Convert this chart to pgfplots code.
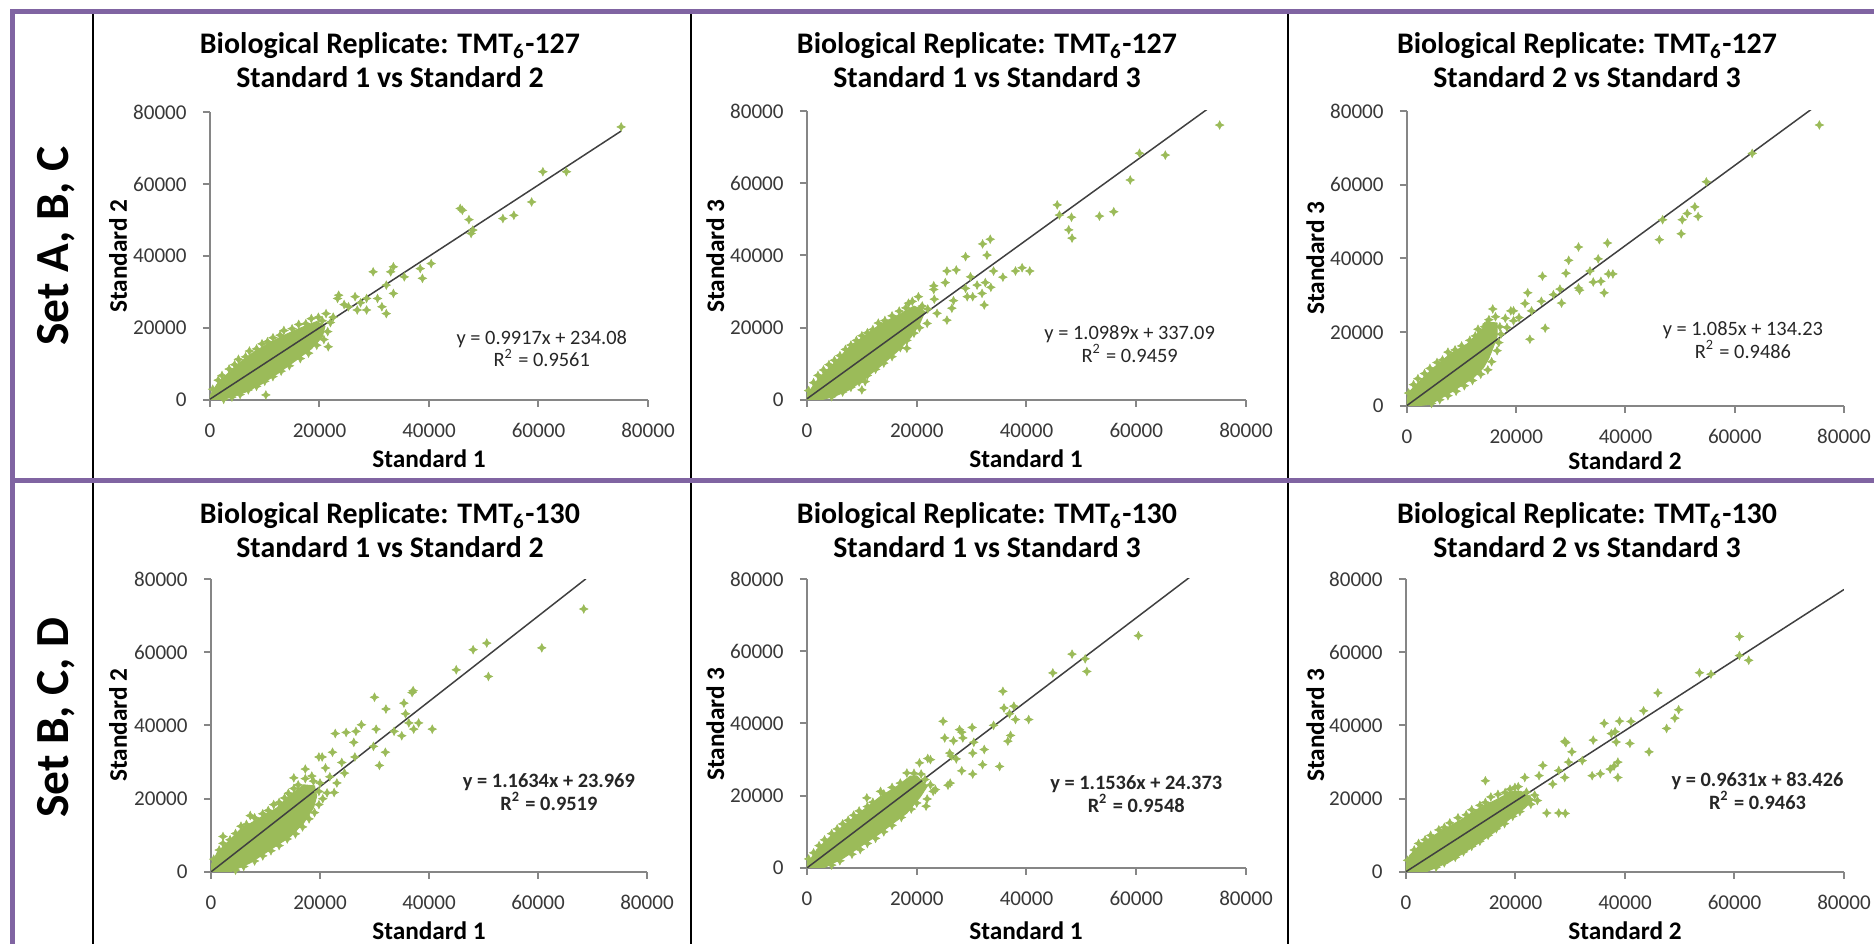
\documentclass[border=0pt]{standalone}
\usepackage{fontspec}
\setmainfont{Carlito}
\usepackage{pgfplots}
\pgfplotsset{compat=1.18}
\definecolor{ptgreen}{RGB}{155,187,89}
\definecolor{frpurple}{RGB}{128,100,162}
\definecolor{axgray}{RGB}{134,134,134}
\pgfdeclareplotmark{fstar}{%
 \pgfpathmoveto{\pgfqpoint{0pt}{\pgfplotmarksize}}%
 \pgfpathlineto{\pgfqpoint{0.33\pgfplotmarksize}{0.33\pgfplotmarksize}}%
 \pgfpathlineto{\pgfqpoint{\pgfplotmarksize}{0pt}}%
 \pgfpathlineto{\pgfqpoint{0.33\pgfplotmarksize}{-0.33\pgfplotmarksize}}%
 \pgfpathlineto{\pgfqpoint{0pt}{-\pgfplotmarksize}}%
 \pgfpathlineto{\pgfqpoint{-0.33\pgfplotmarksize}{-0.33\pgfplotmarksize}}%
 \pgfpathlineto{\pgfqpoint{-\pgfplotmarksize}{0pt}}%
 \pgfpathlineto{\pgfqpoint{-0.33\pgfplotmarksize}{0.33\pgfplotmarksize}}%
 \pgfpathclose
 \pgfusepathqfillstroke
}
\pgfplotsset{
 exstyle/.style={
  scale only axis, anchor=south west,
  xmin=0,xmax=80000,ymin=0,ymax=80000,
  axis x line*=bottom, axis y line*=left,
  axis line style={axgray,line width=0.2mm},
  xtick={0,20000,40000,60000,80000},
  ytick={0,20000,40000,60000,80000},
  scaled ticks=false,
  /pgf/number format/1000 sep={},
  /pgf/number format/assume math mode=true,
  tick align=outside, major tick length=0.7mm,
  tick style={axgray,line width=0.2mm},
  ticklabel style={font=\fontsize{6}{6.8}\selectfont, text=black!78},
  xticklabel style={yshift=-0.4mm},
  yticklabel style={xshift=-0.4mm},
  clip=true,
 },
 cloud/.style={fill=ptgreen, draw=ptgreen, line width=0.1mm, mark=none},
 pts/.style={only marks, mark=fstar, mark size=0.42mm, color=ptgreen, mark options={line width=0.06mm, fill=ptgreen}},
 trend/.style={black!75, line width=0.15mm, mark=none},
}
\newcommand{\eqfont}{\fontsize{5.8}{6.5}\selectfont}
\newcommand{\ttlfont}{\bfseries\fontsize{8.5}{10}\selectfont}
\newcommand{\labfont}{\bfseries\fontsize{7.2}{8}\selectfont}
\begin{document}
\begin{tikzpicture}[x=0.1mm,y=0.1mm]
\path[use as bounding box] (0,0) rectangle (1874,944);
% frame
\draw[black, line width=0.15mm] (93,944-11) -- (93,0);
\draw[black, line width=0.15mm] (691,944-11) -- (691,0);
\draw[black, line width=0.15mm] (1288,944-11) -- (1288,0);
\draw[frpurple, line width=0.5mm] (12.5,0) -- (12.5,944-11.5) -- (1874,944-11.5);
\draw[frpurple, line width=0.5mm] (12.5,944-481) -- (1874,944-481);
\node[rotate=90, anchor=base, font=\bfseries\fontsize{13.5}{16}\selectfont] at (68,944-246) {Set A, B, C};
\node[rotate=90, anchor=base, font=\bfseries\fontsize{13.5}{16}\selectfont] at (68,944-718) {Set B, C, D};

% ---------- Plot 1 ----------
\begin{axis}[exstyle, at={(21.0mm,54.4mm)}, width=43.8mm, height=28.8mm]
\addplot[cloud] coordinates {(0,0) (0,1200) (1200,4200) (3000,7000) (5500,10500) (8000,13300) (11000,16000) (14000,18300) (17000,20300) (19500,21800) (21000,20500) (20500,17500) (18500,14200) (15500,10800) (12500,7500) (9500,4500) (6500,2200) (3500,600) (1500,0)};
\addplot[pts] coordinates {(500,3000) (1500,5500) (2200,6800) (3500,8600) (4500,9800) (5200,11300) (6500,12000) (7200,13600) (8500,14200) (9500,15600) (10500,16200) (11500,17300) (12800,18000) (13500,19300) (15000,19800) (16200,21000) (17500,21200) (18500,22600) (19800,23000) (20500,22000) (22000,21500) (21500,19000) (20800,16800) (19500,15200) (18000,13000) (16500,11500) (14500,9500) (13000,8000) (11500,6500) (10000,5200) (8500,3800) (7000,2800) (5500,1500) (4000,800) (2500,200) (10200,1400) (23500,29100) (23300,28200) (25300,25900) (21200,24000) (21600,14800) (26500,28700) (28600,28200) (28600,25000) (26900,25000) (30600,28200) (31400,25900) (32200,24000) (33500,29600) (32200,31900) (29800,35600) (33500,37000) (33000,35600) (35500,34200) (38400,36500) (38800,33800) (40400,37900) (45700,53200) (46100,52700) (47300,50100) (48000,47200) (47700,46250) (53500,50400) (55500,51300) (58750,55000) (60800,63400) (65100,63400) (75100,75850) (24500,26500) (22500,23000) (27500,27000)};
\addplot[trend] coordinates {(0,234) (75100,74710)};
\node[font=\eqfont, align=center, text=black!85] at (axis cs:60600,14250) {y = 0.9917x + 234.08\\R\textsuperscript{2} = 0.9561};
\end{axis}

% ---------- Plot 2 ----------
\begin{axis}[exstyle, at={(80.7mm,54.4mm)}, width=43.9mm, height=28.9mm]
\addplot[cloud] coordinates {(0,0) (0,1500) (600,2800) (2400,6500) (4900,10100) (7900,15000) (10000,17200) (13400,21000) (17000,23800) (19500,26000) (21500,24500) (20500,21000) (19000,17500) (16500,13500) (13500,9500) (11000,6500) (8000,3000) (5000,1000) (2500,0)};
\addplot[pts] coordinates {(300,2600) (1200,4800) (2000,6800) (3000,8300) (4000,9800) (5000,11000) (6000,12300) (7000,14000) (8000,15200) (9000,16500) (10000,17800) (11000,18600) (12000,19500) (13000,21300) (14200,22000) (15500,23300) (16800,24600) (18000,25500) (18500,26800) (20300,28600) (19200,27300) (21000,26000) (22000,25200) (21900,21200) (20500,20000) (19500,18500) (18200,16500) (17000,14500) (15500,12000) (14000,10200) (12500,8500) (11000,6800) (9500,5000) (8000,3500) (6500,2200) (4500,900) (18200,14300) (10000,2800) (10600,5100) (20700,25400) (23100,31600) (23100,30600) (25200,32500) (28900,30900) (31000,31800) (32500,32500) (33500,31200) (31900,29500) (29200,28600) (30200,28600) (32300,26300) (26700,27500) (26400,25400) (25500,22100) (23200,27900) (23700,24000) (25500,35700) (27200,36000) (29800,34100) (34000,35700) (35700,34000) (38000,35700) (39200,36600) (40600,35700) (28900,39700) (32800,40100) (32000,43200) (33400,44500) (45600,54000) (46000,51200) (48200,50600) (47700,47100) (48300,44800) (53300,50900) (55900,52100) (58900,60900) (60600,68300) (65300,67800) (75200,76100)};
\addplot[trend] coordinates {(0,337) (75200,82975)};
\node[font=\eqfont, align=center, text=black!85] at (axis cs:58800,15500) {y = 1.0989x + 337.09\\R\textsuperscript{2} = 0.9459};
\end{axis}

% ---------- Plot 3 ----------
\begin{axis}[exstyle, at={(140.7mm,53.8mm)}, width=43.7mm, height=29.5mm]
\addplot[cloud] coordinates {(0,0) (0,2000) (600,4100) (2400,6800) (4900,10400) (7900,14100) (11000,16800) (13400,20400) (15200,22700) (16500,22500) (16500,19000) (15800,16000) (15000,13000) (14000,10400) (12200,7700) (8500,4100) (4300,450) (1500,0)};
\addplot[pts] coordinates {(300,3500) (1200,5800) (2000,7400) (3200,8800) (4200,10200) (5500,11800) (6500,12500) (7500,14600) (8800,15200) (10000,16300) (11500,17800) (12500,19000) (13000,20800) (14200,21500) (15000,23400) (14600,22200) (15700,26300) (16200,24200) (17000,21500) (17200,19500) (16800,17200) (16500,15000) (15500,12000) (14800,9800) (13500,8600) (12000,6900) (10500,5500) (9000,4000) (7500,2800) (6000,1700) (4500,700) (19500,25800) (19000,25800) (21600,27800) (22800,25800) (25300,21100) (22500,18100) (19500,23100) (18300,21300) (22100,30700) (24600,28400) (26800,30200) (28300,27900) (28000,31700) (31400,32000) (31600,31400) (24800,35200) (29100,36000) (29600,39500) (31400,43100) (33500,36600) (36900,35800) (37700,35800) (35500,33800) (34100,33600) (36100,30700) (35000,39900) (36700,44200) (46200,45100) (46800,50500) (50200,46700) (50400,50500) (51300,52200) (53300,51400) (52700,54000) (54800,60800) (63200,68500) (75500,76200) (20500,24000) (18000,23800)};
\addplot[trend] coordinates {(0,134) (75500,82052)};
\node[font=\eqfont, align=center, text=black!85] at (axis cs:61500,17900) {y = 1.085x + 134.23\\R\textsuperscript{2} = 0.9486};
\end{axis}

% ---------- Plot 4 ----------
\begin{axis}[exstyle, at={(21.1mm,7.2mm)}, width=43.6mm, height=29.3mm]
\addplot[cloud] coordinates {(0,0) (0,1800) (1100,5200) (2300,7000) (5400,11600) (8400,14300) (12100,17500) (14600,21100) (17000,23800) (19000,23500) (19400,20700) (18800,17500) (17000,13400) (14600,9700) (10900,6100) (7200,2500) (3500,0)};
\addplot[pts] coordinates {(500,3500) (1500,6000) (2200,7800) (3500,8800) (4500,10500) (5500,12500) (6500,13000) (7200,15400) (8000,14800) (9500,15900) (10500,16800) (11500,18400) (12500,19000) (13500,20200) (14200,21500) (15200,22800) (15200,25700) (16000,23800) (17300,25500) (17300,28100) (18800,24800) (18500,26200) (20000,24300) (19800,22000) (20500,20000) (19800,18400) (19000,16200) (18000,14500) (16800,12300) (15500,10400) (14000,9000) (12500,7200) (11000,5800) (9500,4400) (8000,3000) (6000,1500) (4500,500) (2200,9700) (19800,31400) (20400,31400) (21000,28400) (21300,21600) (22600,21700) (23100,24300) (22300,32700) (24000,29900) (26400,31400) (26200,35400) (22800,37800) (24800,38100) (26600,38400) (27600,40200) (30300,39000) (29800,34300) (32000,32700) (30900,29100) (30000,47700) (32100,44500) (33600,38400) (35000,37200) (35400,46100) (35700,43200) (36300,40700) (37200,39000) (38100,40700) (40600,39000) (36900,49000) (37100,49500) (45000,55200) (48100,60700) (50600,62500) (50900,53400) (60700,61200) (68400,71800) (24500,27000) (21800,26000)};
\addplot[trend] coordinates {(0,24) (68800,80066)};
\node[font=\bfseries\eqfont, align=center, text=black!85] at (axis cs:62000,21800) {y = 1.1634x + 23.969\\R\textsuperscript{2} = 0.9519};
\end{axis}

% ---------- Plot 5 ----------
\begin{axis}[exstyle, at={(80.7mm,7.6mm)}, width=43.9mm, height=28.9mm]
\addplot[cloud] coordinates {(0,0) (0,1500) (600,2300) (1800,5100) (4300,8800) (7300,12500) (10300,16100) (13400,19800) (16400,22600) (18800,25400) (20000,25500) (21900,22600) (20700,19800) (18200,15200) (15800,12500) (13400,9700) (10300,6500) (6700,2800) (3000,0)};
\addplot[pts] coordinates {(300,2500) (1200,4200) (2200,6200) (3200,7800) (4500,9500) (5500,10800) (6500,12200) (7500,13200) (8500,14600) (9500,15800) (10900,19400) (11000,17000) (12000,18200) (13400,21200) (14000,20500) (15500,22300) (17000,23500) (18200,26300) (19500,26200) (20800,26000) (21500,24500) (22500,23000) (23000,21200) (21700,17100) (21900,19100) (23400,21700) (20000,18000) (19000,16300) (17200,14000) (15500,11800) (14000,10000) (12500,8200) (11000,6800) (9700,5100) (8200,3800) (6000,2000) (4500,800) (20500,29100) (22500,30000) (22000,30300) (25700,22900) (26100,23500) (24800,40600) (27800,38300) (28200,37600) (30100,38900) (25100,36000) (26700,35200) (28400,36000) (30400,34800) (32300,32800) (30200,31800) (26000,31800) (26300,31000) (27200,30200) (28200,26900) (32000,28600) (35100,28100) (30200,26000) (34000,39500) (37100,36700) (36600,35100) (36900,42700) (38000,41100) (40400,41100) (35900,44300) (37700,44800) (35700,48900) (44800,54000) (48300,59200) (50700,57900) (51000,54400) (60400,64300)};
\addplot[trend] coordinates {(0,24) (70000,80776)};
\node[font=\bfseries\eqfont, align=center, text=black!85] at (axis cs:60000,20500) {y = 1.1536x + 24.373\\R\textsuperscript{2} = 0.9548};
\end{axis}

% ---------- Plot 6 ----------
\begin{axis}[exstyle, at={(140.6mm,7.2mm)}, width=43.8mm, height=29.3mm]
\addplot[cloud] coordinates {(0,0) (0,2000) (700,4600) (2900,7800) (5800,10600) (10100,14300) (13000,17100) (16600,19800) (19500,22100) (21000,22000) (23200,19800) (21700,17500) (18800,14300) (15900,10600) (12300,6900) (8000,2800) (3600,0)};
\addplot[pts] coordinates {(300,3200) (1500,6000) (2300,7800) (3500,8800) (4500,10000) (6000,11500) (7000,12200) (8000,13400) (9500,14800) (11000,15600) (12000,17000) (13500,18200) (14500,19000) (14500,24900) (15500,20500) (16800,21200) (18100,21700) (19000,22600) (19900,23100) (20500,23300) (21700,25800) (22000,21800) (23500,21000) (24000,19500) (22800,18500) (22400,19800) (22600,19800) (20800,16500) (19500,15200) (18000,13200) (16500,11800) (15000,10000) (13500,8400) (12000,7000) (10500,5500) (9000,4000) (7000,2500) (5500,1300) (25700,16100) (27900,16100) (29100,16000) (25000,29100) (24300,26300) (26800,24000) (27900,27700) (29000,25800) (29700,30000) (29000,35700) (29200,35300) (30300,32800) (32200,30400) (34000,26300) (35500,26800) (37300,28100) (38000,28900) (38700,25800) (38700,30000) (34200,36000) (38400,35500) (40900,35100) (37500,37800) (38200,38300) (36200,40600) (39000,41200) (41100,41100) (44400,32800) (43400,44000) (47600,39200) (49100,42000) (49800,44300) (46000,48900) (53600,54400) (55700,54000) (60900,59100) (62600,57800) (60900,64300)};
\addplot[trend] coordinates {(0,83) (80000,77131)};
\node[font=\bfseries\eqfont, align=center, text=black!85] at (axis cs:64200,22000) {y = 0.9631x + 83.426\\R\textsuperscript{2} = 0.9463};
\end{axis}

% ---------- titles and axis labels ----------
\foreach \cx/\ln in {390/{Standard 1 vs Standard 2}, 987/{Standard 1 vs Standard 3}, 1587/{Standard 2 vs Standard 3}}{
  \node[anchor=base, font=\ttlfont] at (\cx,944-54) {Biological Replicate: TMT\textsubscript{6}-127};
  \node[anchor=base, font=\ttlfont] at (\cx,944-88) {\ln};
  \node[anchor=base, font=\ttlfont] at (\cx,944-524) {Biological Replicate: TMT\textsubscript{6}-130};
  \node[anchor=base, font=\ttlfont] at (\cx,944-558) {\ln};
}
\node[anchor=base, font=\labfont] at (429,944-468) {Standard 1};
\node[anchor=base, font=\labfont] at (1026,944-468) {Standard 1};
\node[anchor=base, font=\labfont] at (1625,944-470) {Standard 2};
\node[anchor=base, font=\labfont] at (429,944-940) {Standard 1};
\node[anchor=base, font=\labfont] at (1026,944-940) {Standard 1};
\node[anchor=base, font=\labfont] at (1625,944-940) {Standard 2};
\node[rotate=90, anchor=base, font=\labfont] at (127,944-256) {Standard 2};
\node[rotate=90, anchor=base, font=\labfont] at (724,944-256) {Standard 3};
\node[rotate=90, anchor=base, font=\labfont] at (1324,944-258) {Standard 3};
\node[rotate=90, anchor=base, font=\labfont] at (127,944-725) {Standard 2};
\node[rotate=90, anchor=base, font=\labfont] at (724,944-724) {Standard 3};
\node[rotate=90, anchor=base, font=\labfont] at (1324,944-725) {Standard 3};
\end{tikzpicture}
\end{document}
